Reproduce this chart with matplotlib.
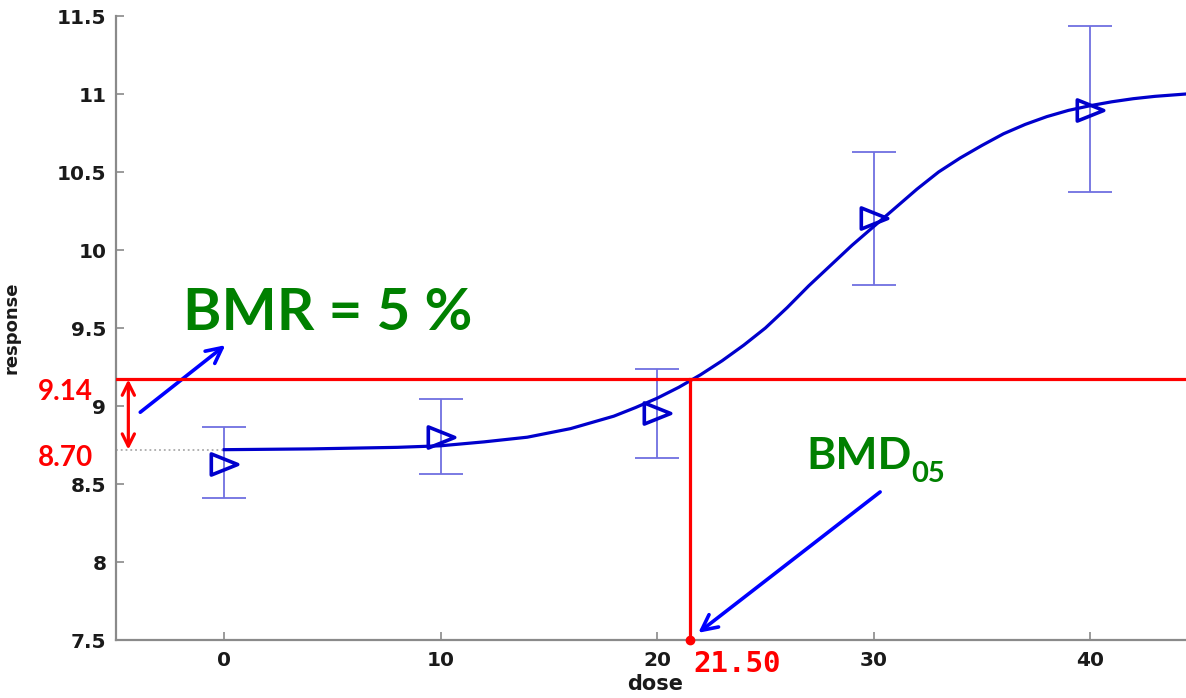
import numpy as np
import matplotlib
matplotlib.use('Agg')
import matplotlib.pyplot as plt
from matplotlib.path import Path

# observed group means with error bars
dose = [0, 10, 20, 30, 40]
resp_mean = [8.63, 8.80, 8.955, 10.205, 10.90]
resp_low = [8.41, 8.564, 8.667, 9.776, 10.37]
resp_high = [8.867, 9.045, 9.24, 10.63, 11.436]

# fitted curve
curve_dose = [0, 4, 8, 10, 12, 14, 16, 18, 19, 20, 21, 22, 23, 24, 25, 26,
              27, 28, 29, 30, 31, 32, 33, 34, 35, 36, 37, 38, 39, 40, 41,
              42, 43, 44.43]
curve_resp = [8.72, 8.725, 8.735, 8.745, 8.77, 8.80, 8.855, 8.935, 8.99, 9.05,
              9.12, 9.20, 9.29, 9.39, 9.50, 9.63, 9.77, 9.90, 10.03, 10.15,
              10.27, 10.39, 10.50, 10.59, 10.67, 10.745, 10.805, 10.855,
              10.895, 10.925, 10.95, 10.97, 10.985, 11.0]

bg_level = 8.72      # background response line
bmr_level = 9.17     # response at BMR
bmd = 21.52
bg_label = '8.70'
bmr_label = '9.14'
bmd_label = '21.50'

xticks = [0, 10, 20, 30, 40]
yticks = [7.5, 8, 8.5, 9, 9.5, 10, 10.5, 11, 11.5]

BLUE = '#0000cc'
GREEN = '#008000'
GRAY = '#8a8a8a'

fig = plt.figure(figsize=(11.86, 6.98), dpi=100)
ax = fig.add_axes([116 / 1186, 58 / 698, 1070 / 1186, 624 / 698])

err = [np.array(resp_mean) - np.array(resp_low),
       np.array(resp_high) - np.array(resp_mean)]
ax.errorbar(dose, resp_mean, yerr=err, fmt='none', ecolor='#7070e0',
            elinewidth=1.3, capsize=16, capthick=1.3, zorder=2)

ax.plot(curve_dose, curve_resp, color=BLUE, lw=2.3, zorder=3,
        solid_joinstyle='round')

tri = Path([(-1, 0.8), (1, 0), (-1, -0.8), (-1, 0.8)],
           [Path.MOVETO, Path.LINETO, Path.LINETO, Path.CLOSEPOLY])
ax.plot(dose, resp_mean, ls='none', marker=tri, ms=19, mew=2.6,
        mfc='none', mec=BLUE, zorder=4)

# BMR / BMD construction
ax.plot([-5, 0], [bg_level, bg_level], color='#aaaaaa', ls=':', lw=1.3, zorder=1)
ax.axhline(bmr_level, color='red', lw=2.3, zorder=5)
ax.plot([bmd, bmd], [7.5, bmr_level], color='red', lw=2.3, zorder=5)
ax.plot([bmd], [7.5], 'o', color='red', ms=6, clip_on=False, zorder=6)

ax.annotate('', xy=(-4.43, bmr_level), xytext=(-4.43, bg_level),
            arrowprops=dict(arrowstyle='<->', color='red', lw=2.3,
                            mutation_scale=22, shrinkA=0, shrinkB=0))
ax.annotate('', xy=(0.05, 9.39), xytext=(-3.88, 8.96),
            arrowprops=dict(arrowstyle='->', color='blue', lw=2.6,
                            mutation_scale=28, shrinkA=0, shrinkB=0))
ax.annotate('', xy=(21.9, 7.546), xytext=(30.3, 8.449),
            arrowprops=dict(arrowstyle='->', color='blue', lw=2.6,
                            mutation_scale=28, shrinkA=0, shrinkB=0))

ax.text(-1.89, 9.596, 'BMR = 5 %', color=GREEN, fontsize=42,
        fontweight='bold', family='Lato', ha='left', va='center')
t = ax.text(26.88, 8.68, 'BMD', color=GREEN, fontsize=32,
            fontweight='bold', family='Lato', ha='left', va='center')
ax.annotate('05', xy=(1.0, 0.05), xycoords=t, color=GREEN, fontsize=21,
            fontweight='bold', family='Lato', ha='left', va='center')

ax.text(-7.35, 9.092, bmr_label, color='red', fontsize=20, fontweight='bold',
        family='Lato', ha='center', va='center')
ax.text(-7.35, 8.667, bg_label, color='red', fontsize=20, fontweight='bold',
        family='Lato', ha='center', va='center')
ax.text(21.66, 7.346, bmd_label, color='red', fontsize=21, fontweight='bold',
        family='DejaVu Sans Mono', ha='left', va='center')

ax.set_xlim(-5, 44.43)
ax.set_ylim(7.5, 11.5)
ax.set_xticks(xticks)
ax.set_xticklabels([str(v) for v in xticks])
ax.set_yticks(yticks)
ax.set_yticklabels(['%g' % v for v in yticks])
ax.tick_params(direction='in', length=6, width=1.2, color=GRAY,
               labelsize=14.5)
ax.tick_params(axis='x', pad=8)
ax.tick_params(axis='y', pad=7)
for lab in ax.get_xticklabels() + ax.get_yticklabels():
    lab.set_fontweight('bold')
    lab.set_color('#1a1a1a')

for s in ['top', 'right']:
    ax.spines[s].set_visible(False)
for s in ['left', 'bottom']:
    ax.spines[s].set_color(GRAY)
    ax.spines[s].set_linewidth(1.6)

ax.set_ylabel('response', fontsize=13, fontweight='bold', color='#1a1a1a')
ax.yaxis.set_label_coords(-0.089, 0.5)
ax.set_xlabel('dose', fontsize=15, fontweight='bold', color='#1a1a1a')
ax.xaxis.set_label_coords(0.504, -0.0705)
ax.xaxis.label.set_va('center')

fig.savefig('out.png', dpi=100)
